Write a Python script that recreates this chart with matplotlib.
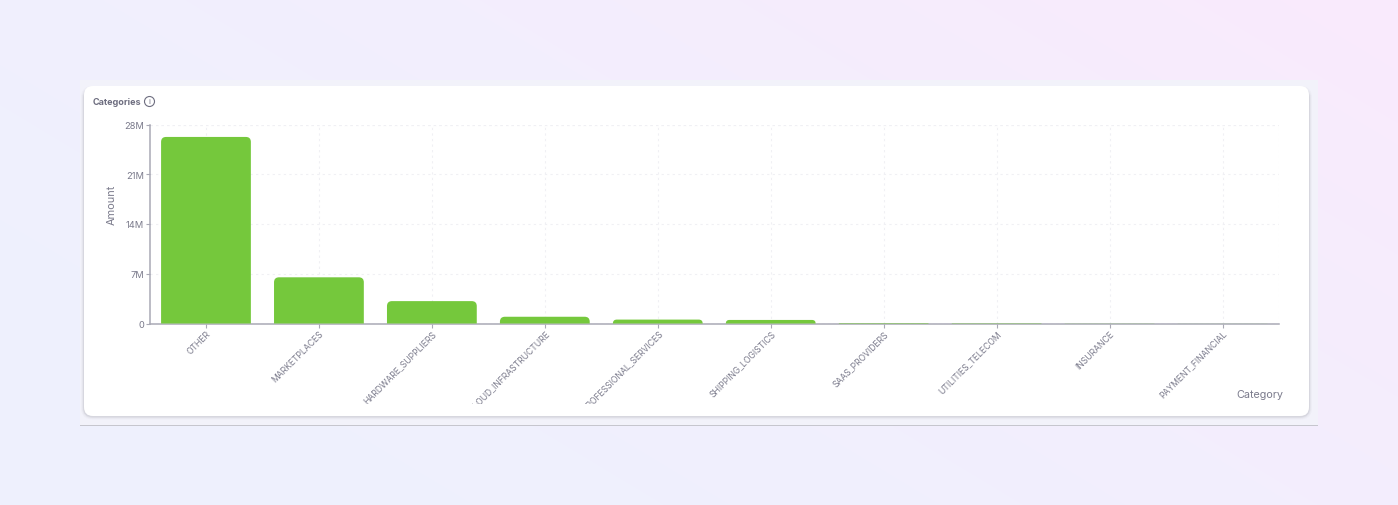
import numpy as np
import matplotlib
matplotlib.use("Agg")
import matplotlib.pyplot as plt
from matplotlib.patches import FancyBboxPatch, PathPatch, Rectangle
from matplotlib.path import Path
from matplotlib.transforms import Bbox, IdentityTransform

categories = ["OTHER", "MARKETPLACES", "HARDWARE_SUPPLIERS", "CLOUD_INFRASTRUCTURE",
              "PROFESSIONAL_SERVICES", "SHIPPING_LOGISTICS", "SAAS_PROVIDERS",
              "UTILITIES_TELECOM", "INSURANCE", "PAYMENT_FINANCIAL"]
amounts = [26.25, 6.5, 3.15, 0.95, 0.55, 0.5, 0.07, 0.05, 0.02, 0.01]
y_ticks = [0, 7, 14, 21, 28]
y_tick_labels = ["0", "7M", "14M", "21M", "28M"]

W, H = 1398, 506
plt.rcParams["font.family"] = ["Inter", "DejaVu Sans"]
TEXT = "#7b7b8c"
AXIS = "#a9a9b5"
GREEN = "#75c83c"

fig = plt.figure(figsize=(W / 100, H / 100), dpi=100)


def px(x, y):
    # picture coordinates (top-left origin) to display coordinates
    return x, H - y


# page background, soft diagonal gradient
bg = fig.add_axes([0, 0, 1, 1], zorder=0)
bg.axis("off")
yy, xx = np.mgrid[0:1:506j, 0:1:1398j]
t = np.clip((xx * 0.75 + (1 - yy) * 0.45) / 1.2, 0, 1)[..., None] ** 1.6
left = np.array([238, 241, 254]) / 255
right = np.array([250, 234, 252]) / 255
bg.imshow(left + (right - left) * t, aspect="auto", extent=[0, 1, 0, 1], origin="upper")
bg.set_xlim(0, 1)
bg.set_ylim(0, 1)


def add_box(x0, y0, x1, y1, radius, **kw):
    box = FancyBboxPatch((x0 + radius, H - y1 + radius), x1 - x0 - 2 * radius, y1 - y0 - 2 * radius,
                         boxstyle=f"round,pad={radius},rounding_size={radius}",
                         transform=IdentityTransform(), **kw)
    fig.add_artist(box)
    return box


# outer panel and its bottom rule
fig.add_artist(Rectangle(px(80, 426), 1238, 345, transform=IdentityTransform(),
                         facecolor="#f2f2fa", edgecolor="none", zorder=1))
fig.add_artist(Rectangle(px(80, 427), 1238, 1, transform=IdentityTransform(),
                         facecolor="#c6c6ce", edgecolor="none", zorder=1))

# card with a small shadow, heavier along the bottom edge
for grow, alpha in [(3, 0.03), (2, 0.05), (1, 0.1)]:
    add_box(84 - grow, 90 - grow, 1309 + grow, 417.5 + grow, 9 + grow,
            facecolor="#5c5c66", alpha=alpha, edgecolor="none", zorder=2)
add_box(84, 87, 1309, 417, 9, facecolor="white", edgecolor="none", zorder=3)

ax_l, ax_r, ax_t, ax_b = 149.5, 1279, 125.5, 324.5
ax = fig.add_axes([ax_l / W, 1 - ax_b / H, (ax_r - ax_l) / W, (ax_b - ax_t) / H], zorder=4)
ax.patch.set_alpha(0)
x = np.arange(len(categories))
ax.set_xlim(-0.5, len(categories) - 0.5)
ax.set_ylim(0, 28)

bars = ax.bar(x, amounts, width=0.795, color="none", zorder=3)

ax.set_xticks(x)
ax.set_xticklabels(categories)
ax.set_yticks(y_ticks)
ax.set_yticklabels(y_tick_labels)
ax.grid(True, color="#f0f0f4", linestyle=(0, (2, 3)), linewidth=0.8, zorder=0)
ax.set_axisbelow(True)
ax.plot([1, 1], [0, 1], transform=ax.transAxes, color="#f0f0f4", linestyle=(0, (2, 3)), linewidth=0.8, zorder=0)
ax.plot([0, 1], [1, 1], transform=ax.transAxes, color="#f0f0f4", linestyle=(0, (2, 3)), linewidth=0.8, zorder=0)

for s in ["top", "right"]:
    ax.spines[s].set_visible(False)
for s in ["left", "bottom"]:
    ax.spines[s].set_color(AXIS)
    ax.spines[s].set_linewidth(1.1)
    ax.spines[s].set_zorder(2.5)
ax.tick_params(axis="both", length=3, width=0.8, color=AXIS, labelcolor=TEXT, labelsize=6.7, pad=0.8)
ax.tick_params(axis="x", pad=0.5)

clip = Bbox([[0, H - 404.5], [W, H]])
for lab in ax.get_xticklabels():
    lab.set_rotation(45)
    lab.set_ha("right")
    lab.set_va("top")
    lab.set_rotation_mode("anchor")
    lab.set_fontsize(6.2)
    lab.set_clip_on(True)
    lab.set_clip_box(clip)

# rounded tops for the bars, radius capped by the bar height
fig.canvas.draw()
for b in bars:
    e = b.get_window_extent()
    r = min(5, e.height)
    x0, x1, y0, y1 = e.x0, e.x1, e.y0, e.y1
    verts = [(x0, y0), (x0, y1 - r), (x0, y1), (x0 + r, y1), (x1 - r, y1), (x1, y1), (x1, y1 - r), (x1, y0), (x0, y0)]
    codes = [Path.MOVETO, Path.LINETO, Path.CURVE3, Path.CURVE3, Path.LINETO, Path.CURVE3, Path.CURVE3, Path.LINETO, Path.CLOSEPOLY]
    ax.add_patch(PathPatch(Path(verts, codes), facecolor=GREEN, edgecolor="none",
                           transform=IdentityTransform(), zorder=3, clip_on=False))

ax.text(112 / W, 1 - 205 / H, "Amount", transform=fig.transFigure, rotation=90, ha="center", va="center",
        fontsize=7.9, color=TEXT)
fig.text(1283 / W, 1 - 395 / H, "Category", ha="right", va="center", fontsize=7.8, color=TEXT, zorder=6)
fig.text(93 / W, 1 - 102.5 / H, "Categories", ha="left", va="center", fontsize=6.5, fontweight="bold",
         color="#6e6e80", zorder=6)

# info icon next to the title
fig.text(149.5 / W, 1 - 102.5 / H, "i", ha="center", va="center", fontsize=5.5, color="#6e6e80", zorder=6)
fig.add_artist(plt.Circle((149.5, H - 102.5), 5, transform=IdentityTransform(), fill=False,
                          edgecolor="#6e6e80", linewidth=0.8, zorder=6))

fig.savefig("out.png", dpi=100)
